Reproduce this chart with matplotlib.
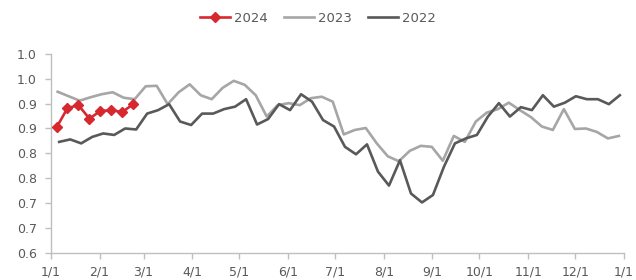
import numpy as np
import matplotlib
matplotlib.use("Agg")
import matplotlib.pyplot as plt

# Data (day-of-year positions, weekly observations)
month_ticks = [0, 31, 59, 90, 120, 151, 181, 212, 243, 273, 304, 334, 365]
month_labels = ["1/1", "2/1", "3/1", "4/1", "5/1", "6/1", "7/1", "8/1",
                "9/1", "10/1", "11/1", "12/1", "1/1"]
y_ticks = [0.60, 0.65, 0.70, 0.75, 0.80, 0.85, 0.90, 0.95, 1.00]
y_labels = ["0.6", "0.7", "0.7", "0.8", "0.8", "0.9", "0.9", "1.0", "1.0"]

v2024 = [0.852, 0.891, 0.897, 0.870, 0.885, 0.887, 0.883, 0.899]
v2023 = [0.924, 0.915, 0.906, 0.913, 0.919, 0.923, 0.912, 0.909, 0.935, 0.936,
         0.899, 0.923, 0.939, 0.917, 0.909, 0.932, 0.946, 0.938, 0.917, 0.874,
         0.897, 0.901, 0.897, 0.911, 0.914, 0.904, 0.838, 0.847, 0.851, 0.820,
         0.794, 0.784, 0.805, 0.815, 0.813, 0.785, 0.835, 0.823, 0.864, 0.882,
         0.889, 0.902, 0.887, 0.873, 0.854, 0.847, 0.889, 0.849, 0.850, 0.843,
         0.830, 0.835]
v2022 = [0.823, 0.828, 0.820, 0.833, 0.840, 0.837, 0.850, 0.848, 0.880, 0.887,
         0.899, 0.864, 0.857, 0.880, 0.880, 0.889, 0.894, 0.909, 0.858, 0.869,
         0.899, 0.887, 0.919, 0.904, 0.867, 0.854, 0.813, 0.798, 0.818, 0.763,
         0.735, 0.786, 0.719, 0.701, 0.716, 0.773, 0.820, 0.830, 0.837, 0.874,
         0.901, 0.874, 0.893, 0.887, 0.917, 0.894, 0.902, 0.915, 0.909, 0.909,
         0.899, 0.917]

d2024 = np.linspace(3.6, 52.4, len(v2024))
d2023 = np.linspace(4.3, 361.8, len(v2023))
d2022 = np.linspace(5.3, 362.4, len(v2022))

RED = "#d7282f"
LIGHT = "#a6a6a6"
DARK = "#595959"
TXT = "#595959"

fig = plt.figure(figsize=(6.36, 2.80), dpi=100)
ax = fig.add_axes([0.080, 0.098, 0.901, 0.709])

ax.plot(d2024, v2024, color=RED, lw=1.9, marker="D", ms=5, label="2024", zorder=5)
ax.plot(d2023, v2023, color=LIGHT, lw=1.9, label="2023", zorder=3)
ax.plot(d2022, v2022, color=DARK, lw=1.9, label="2022", zorder=4)

ax.set_xlim(0, 365)
ax.set_ylim(0.6, 1.0)
ax.set_xticks(month_ticks)
ax.set_xticklabels(month_labels)
ax.set_yticks(y_ticks)
ax.set_yticklabels(y_labels)

for s in ["top", "right"]:
    ax.spines[s].set_visible(False)
for s in ["left", "bottom"]:
    ax.spines[s].set_color("#bfbfbf")
    ax.spines[s].set_linewidth(1.0)

ax.tick_params(axis="both", colors="#bfbfbf", labelcolor=TXT, labelsize=9,
               length=4, width=1.0, direction="out")
ax.tick_params(axis="x", pad=5)
ax.tick_params(axis="y", pad=6)

leg = fig.legend(loc="center", bbox_to_anchor=(0.5, 0.935), ncol=3, frameon=False,
                 fontsize=9.5, handlelength=2.3, columnspacing=1.2, handletextpad=0.3)
for t in leg.get_texts():
    t.set_color(TXT)

fig.savefig("out.png", dpi=100)
